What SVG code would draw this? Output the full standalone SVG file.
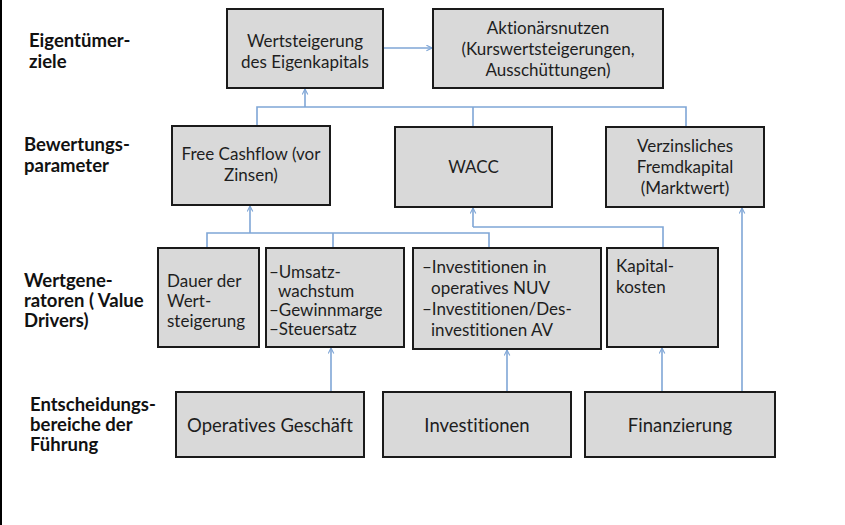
<svg xmlns="http://www.w3.org/2000/svg" width="845" height="525" viewBox="0 0 845 525">
<style>
.box{fill:#d9d9d9;stroke:#1a1a1a;stroke-width:2}
.t{font-family:Lato,"Open Sans","Liberation Sans",sans-serif;font-size:17px;fill:#1e1e1e;font-variant-ligatures:none;font-feature-settings:"liga" 0,"clig" 0}
.c{text-anchor:middle}
.big{font-size:18.5px}
.lab{font-family:Lato,"Open Sans","Liberation Sans",sans-serif;font-size:18.5px;font-weight:bold;fill:#111;font-variant-ligatures:none}
.con{fill:none;stroke:#7fa6d6;stroke-width:1.6}
</style>
<defs>
<marker id="ah" viewBox="0 0 10 10" refX="9" refY="5" markerWidth="7" markerHeight="7" orient="auto" markerUnits="userSpaceOnUse">
<path d="M1,1 L9,5 L1,9" fill="none" stroke="#7fa6d6" stroke-width="1.6"/>
</marker>
</defs>
<rect x="0" y="0" width="845" height="525" fill="#fff"/>
<line x1="1" y1="0" x2="1" y2="525" stroke="#000" stroke-width="2"/>
<g id="labels">
<text class="lab" x="29" y="47">Eigentümer-</text>
<text class="lab" x="29" y="68">ziele</text>
<text class="lab" x="24" y="151">Bewertungs-</text>
<text class="lab" x="24" y="172">parameter</text>
<text class="lab" x="24" y="287">Wertgene-</text>
<text class="lab" x="24" y="307">ratoren ( Value</text>
<text class="lab" x="24" y="327">Drivers)</text>
<text class="lab" x="30" y="411">Entscheidungs-</text>
<text class="lab" x="30" y="431">bereiche der</text>
<text class="lab" x="30" y="451">Führung</text>
</g>
<g id="connectors">
<path class="con" d="M383,48 H432" marker-end="url(#ah)"/>
<path class="con" d="M257,126 V107 H686 V127 M473,107 V127"/>
<path class="con" d="M305,107 V89" marker-end="url(#ah)"/>
<path class="con" d="M207,248 V233 H489 V248 M333,233 V248"/>
<path class="con" d="M250,233 V206" marker-end="url(#ah)"/>
<path class="con" d="M663,248 V227 H473"/>
<path class="con" d="M473,227 V208" marker-end="url(#ah)"/>
<path class="con" d="M331,392 V348" marker-end="url(#ah)"/>
<path class="con" d="M507,392 V350" marker-end="url(#ah)"/>
<path class="con" d="M662,392 V348" marker-end="url(#ah)"/>
<path class="con" d="M742,392 V208" marker-end="url(#ah)"/>
</g>
<g id="n-wertsteigerung">
<rect class="box" x="227" y="9" width="156" height="79"/>
<text class="t c" x="305" y="47">Wertsteigerung</text>
<text class="t c" x="305" y="68">des Eigenkapitals</text>
</g>
<g id="n-aktionaersnutzen">
<rect class="box" x="433" y="9" width="230" height="79"/>
<text class="t c" x="548" y="34">Aktionärsnutzen</text>
<text class="t c" x="548" y="55">(Kurswertsteigerungen,</text>
<text class="t c" x="548" y="76">Ausschüttungen)</text>
</g>
<g id="n-fcf">
<rect class="box" x="172" y="126" width="158" height="79"/>
<text class="t c" x="251" y="160">Free Cashflow (vor</text>
<text class="t c" x="251" y="181">Zinsen)</text>
</g>
<g id="n-wacc">
<rect class="box" x="395" y="127" width="157" height="80"/>
<text class="t c" x="473.5" y="173">WACC</text>
</g>
<g id="n-fremdkapital">
<rect class="box" x="606" y="127" width="158" height="80"/>
<text class="t c" x="685" y="152">Verzinsliches</text>
<text class="t c" x="685" y="173">Fremdkapital</text>
<text class="t c" x="685" y="194">(Marktwert)</text>
</g>
<g id="n-dauer">
<rect class="box" x="158" y="248" width="101" height="99"/>
<text class="t" x="167" y="287">Dauer der</text>
<text class="t" x="167" y="307">Wert-</text>
<text class="t" x="167" y="327">steigerung</text>
</g>
<g id="n-umsatz">
<rect class="box" x="266" y="248" width="138" height="99"/>
<text class="t" x="269" y="278">–Umsatz-</text>
<text class="t" x="278" y="297">wachstum</text>
<text class="t" x="269" y="316">–Gewinnmarge</text>
<text class="t" x="269" y="335">–Steuersatz</text>
</g>
<g id="n-investitionen-drv">
<rect class="box" x="413" y="248" width="188" height="101"/>
<text class="t" x="422" y="273">–Investitionen in</text>
<text class="t" x="431" y="294">operatives NUV</text>
<text class="t" x="422" y="315">–Investitionen/Des-</text>
<text class="t" x="431" y="336">investitionen AV</text>
</g>
<g id="n-kapitalkosten">
<rect class="box" x="607" y="248" width="111" height="99"/>
<text class="t" x="616" y="272">Kapital-</text>
<text class="t" x="616" y="293">kosten</text>
</g>
<g id="n-operatives">
<rect class="box" x="176" y="392" width="188" height="65"/>
<text class="t big c" x="270" y="432">Operatives Geschäft</text>
</g>
<g id="n-investitionen">
<rect class="box" x="383" y="392" width="188" height="65"/>
<text class="t big c" x="477" y="432">Investitionen</text>
</g>
<g id="n-finanzierung">
<rect class="box" x="585" y="392" width="190" height="65"/>
<text class="t big c" x="680" y="432">Finanzierung</text>
</g>
</svg>
